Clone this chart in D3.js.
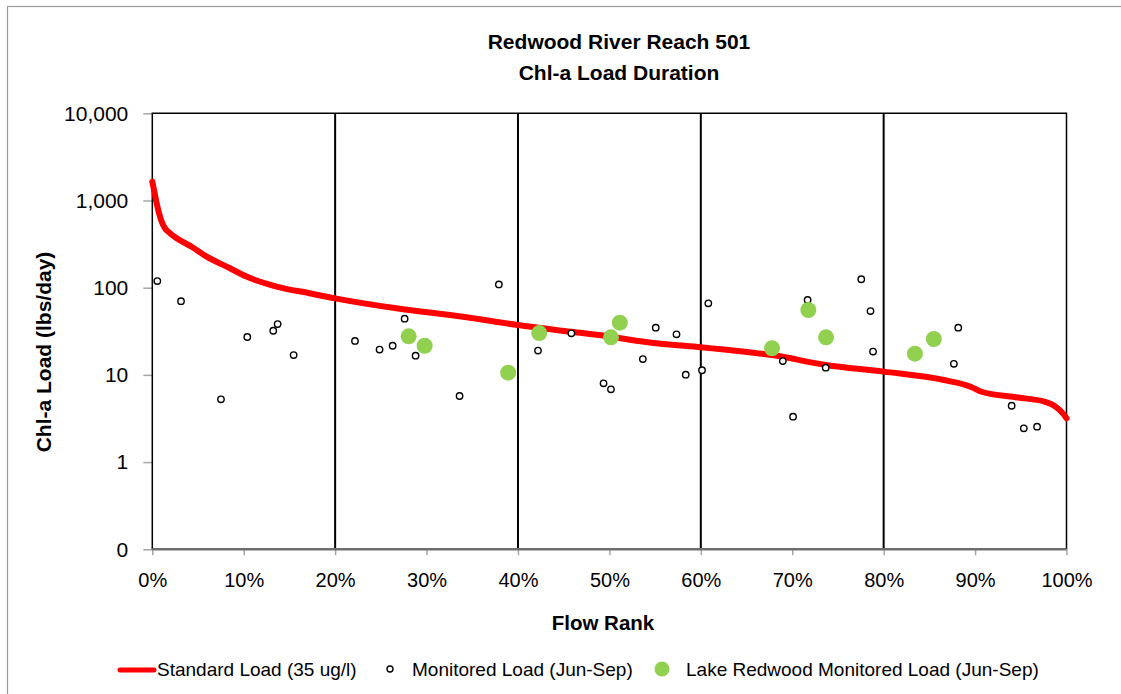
<!DOCTYPE html>
<html>
<head>
<meta charset="utf-8">
<script src="https://cdn.jsdelivr.net/npm/d3@7"></script>
<style>
  html, body { margin: 0; padding: 0; background: #ffffff; }
  svg { display: block; font-family: "Liberation Sans", Arial, sans-serif; }
</style>
</head>
<body>
<svg id="chart" width="1121" height="694"></svg>
<script>
// Standard load curve (35 ug/l) along the flow-duration rank
const stdRank = [0, 0.19, 0.48, 1.03, 1.39, 1.94, 2.67, 4.3, 5.95, 8.5, 10.3, 13.6, 17.2, 20, 26.7, 34, 40, 45.8, 50, 53.8, 60, 63.1, 67.8, 73.7, 80, 86.6, 89.5, 90.7, 94.7, 97.6, 98.8, 99.6, 100];
const stdLoad = [1645, 1318, 929, 571, 480, 421, 369, 295, 227, 167, 134, 103, 86.3, 75.5, 58, 46.4, 37.3, 31.3, 27.6, 24, 20.7, 19.3, 16.9, 13.0, 10.9, 8.73, 7.33, 6.41, 5.5, 4.93, 4.32, 3.62, 3.18];

// Monitored loads (Jun-Sep)
const monRank = [0.55, 3.14, 7.51, 10.39, 13.23, 13.71, 15.46, 22.17, 24.86, 26.29, 27.6, 28.8, 33.61, 37.91, 42.19, 45.84, 49.36, 50.17, 53.66, 55.07, 57.34, 58.35, 60.13, 60.82, 68.97, 70.09, 71.68, 73.66, 77.55, 78.56, 78.84, 87.68, 88.16, 94.0, 95.33, 96.78];
const monLoad = [119, 70, 5.25, 27.2, 32.1, 38.3, 16.9, 24.5, 19.5, 21.6, 44.1, 16.6, 5.73, 109, 19.0, 30.0, 8.0, 6.84, 15.2, 34.8, 29.2, 10.05, 11.3, 66.2, 14.4, 3.32, 72.3, 12.1, 125, 54, 18.5, 13.4, 34.8, 4.43, 2.44, 2.55];

// Lake Redwood monitored loads (Jun-Sep)
const lakeRank = [28.04, 29.79, 38.93, 42.32, 50.17, 51.14, 67.79, 71.76, 73.7, 83.42, 85.49];
const lakeLoad = [27.7, 21.6, 10.6, 30.2, 27.0, 39.7, 20.2, 55.5, 27.0, 17.5, 25.8];

// Axis ticks and labels
const yTickValues = [0.1, 1, 10, 100, 1000, 10000];
const yTickLabels = ["0", "1", "10", "100", "1,000", "10,000"];
const xTickValues = [0, 10, 20, 30, 40, 50, 60, 70, 80, 90, 100];
const xTickLabels = ["0%", "10%", "20%", "30%", "40%", "50%", "60%", "70%", "80%", "90%", "100%"];
const xGridValues = [20, 40, 60, 80];

const titleLines = ["Redwood River Reach 501", "Chl-a Load Duration"];
const legendLabels = ["Standard Load (35 ug/l)", "Monitored Load (Jun-Sep)", "Lake Redwood Monitored Load (Jun-Sep)"];

const RED = "#ff0000";
const GREEN = "#92d050";

const svg = d3.select("#chart");

// outer chart frame
svg.append("rect")
  .attr("x", 7.5).attr("y", 6.5)
  .attr("width", 1130).attr("height", 700)
  .attr("fill", "none").attr("stroke", "#9a9a9a").attr("stroke-width", 1.2);

const plot = { left: 152.3, right: 1066.5, top: 113.3, bottom: 549.3 };

const x = d3.scaleLinear().domain([0, 100]).range([plot.left, plot.right]);
const y = d3.scaleLog().domain([0.1, 10000]).range([plot.bottom, plot.top]);

// title
svg.append("g").selectAll("text")
  .data(titleLines).join("text")
  .attr("x", 619).attr("y", (d, i) => 41 + i * 31)
  .attr("text-anchor", "middle").attr("dominant-baseline", "central")
  .attr("font-size", 21).attr("font-weight", "bold").attr("fill", "#000")
  .text(d => d);

// y axis
const yAxis = d3.axisLeft(y)
  .tickValues(yTickValues)
  .tickFormat((d, i) => yTickLabels[i])
  .tickSize(9).tickPadding(15);
const gy = svg.append("g").attr("transform", `translate(${plot.left},0)`).call(yAxis);
gy.select(".domain").remove();
gy.selectAll(".tick line").attr("stroke", "#a6a6a6").attr("stroke-width", 1.5);
gy.selectAll(".tick text").attr("font-size", 21).attr("fill", "#000")
  .attr("font-family", "'Liberation Sans', Arial, sans-serif");

// x axis
const xAxis = d3.axisBottom(x)
  .tickValues(xTickValues)
  .tickFormat((d, i) => xTickLabels[i])
  .tickSize(6).tickPadding(18);
const gx = svg.append("g").attr("transform", `translate(0,${plot.bottom})`).call(xAxis);
gx.select(".domain").remove();
gx.selectAll(".tick line").attr("stroke", "#a6a6a6").attr("stroke-width", 1.5);
gx.selectAll(".tick text").attr("font-size", 20).attr("fill", "#000")
  .attr("font-family", "'Liberation Sans', Arial, sans-serif");

// vertical divider lines between flow zones
svg.append("g").selectAll("line")
  .data(xGridValues).join("line")
  .attr("x1", d => x(d)).attr("x2", d => x(d))
  .attr("y1", plot.top).attr("y2", plot.bottom)
  .attr("stroke", "#000").attr("stroke-width", 2);

// plot frame
svg.append("path")
  .attr("d", `M${plot.left},${plot.bottom}V${plot.top}H${plot.right}V${plot.bottom}`)
  .attr("fill", "none").attr("stroke", "#000").attr("stroke-width", 1.5);
svg.append("line")
  .attr("x1", plot.left).attr("x2", plot.right)
  .attr("y1", plot.bottom).attr("y2", plot.bottom)
  .attr("stroke", "#6e6e6e").attr("stroke-width", 2.5);

// standard load curve
const stdData = stdRank.map((r, i) => [r, stdLoad[i]]);
svg.append("path")
  .datum(stdData)
  .attr("d", d3.line().x(d => x(d[0])).y(d => y(d[1])).curve(d3.curveMonotoneX))
  .attr("fill", "none").attr("stroke", RED).attr("stroke-width", 6)
  .attr("stroke-linejoin", "round").attr("stroke-linecap", "round");

// monitored loads
svg.append("g").selectAll("circle")
  .data(monRank.map((r, i) => [r, monLoad[i]])).join("circle")
  .attr("cx", d => x(d[0])).attr("cy", d => y(d[1]))
  .attr("r", 3.2).attr("fill", "#fff").attr("stroke", "#000").attr("stroke-width", 1.4);

// Lake Redwood monitored loads
svg.append("g").selectAll("circle")
  .data(lakeRank.map((r, i) => [r, lakeLoad[i]])).join("circle")
  .attr("cx", d => x(d[0])).attr("cy", d => y(d[1]))
  .attr("r", 8).attr("fill", GREEN);

// axis titles
svg.append("text")
  .attr("x", 603).attr("y", 622)
  .attr("text-anchor", "middle").attr("dominant-baseline", "central")
  .attr("font-size", 20.5).attr("font-weight", "bold").text("Flow Rank");
svg.append("text")
  .attr("transform", "translate(43,352) rotate(-90)")
  .attr("text-anchor", "middle").attr("dominant-baseline", "central")
  .attr("font-size", 21).attr("font-weight", "bold").text("Chl-a Load (lbs/day)");

// legend
const lg = svg.append("g");
const ly = 669;
lg.append("line")
  .attr("x1", 120).attr("x2", 154).attr("y1", ly + 1).attr("y2", ly + 1)
  .attr("stroke", RED).attr("stroke-width", 5).attr("stroke-linecap", "round");
lg.append("circle")
  .attr("cx", 390).attr("cy", ly).attr("r", 3)
  .attr("fill", "#fff").attr("stroke", "#000").attr("stroke-width", 1.4);
lg.append("circle")
  .attr("cx", 662).attr("cy", ly).attr("r", 7.5).attr("fill", GREEN);
const legendX = [157, 412, 686];
lg.selectAll("text")
  .data(legendLabels).join("text")
  .attr("x", (d, i) => legendX[i]).attr("y", ly)
  .attr("dominant-baseline", "central")
  .attr("font-size", 19).attr("fill", "#000")
  .text(d => d);
</script>
</body>
</html>
